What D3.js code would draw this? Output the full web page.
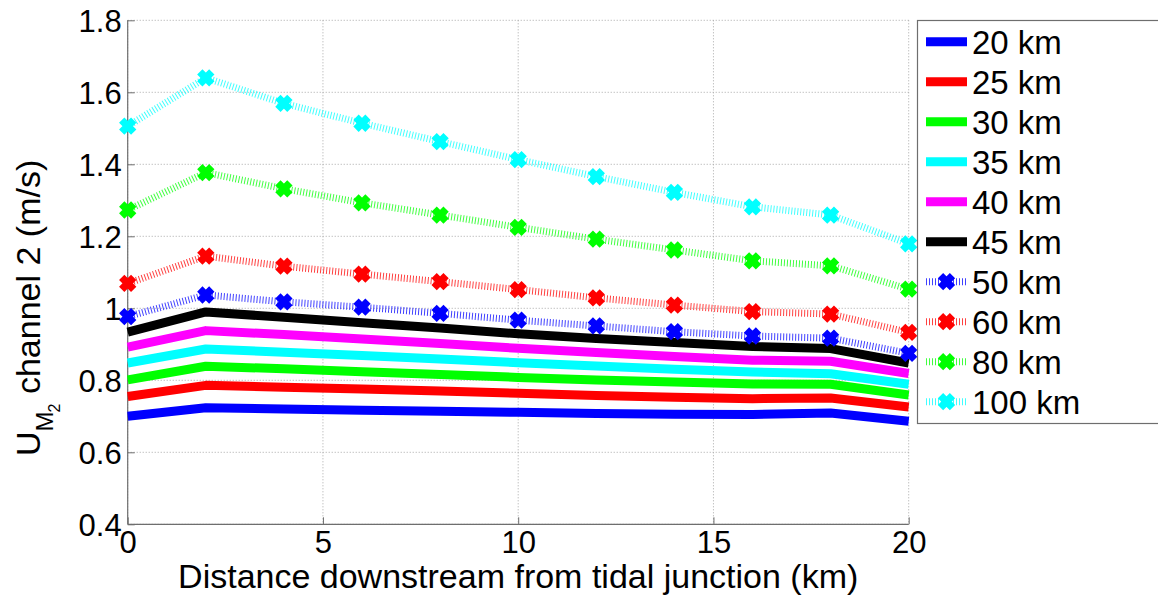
<!DOCTYPE html>
<html>
<head>
<meta charset="utf-8">
<script src="https://cdn.jsdelivr.net/npm/d3@7"></script>
<style>
  html, body { margin: 0; padding: 0; background: #fff; }
  svg { display: block; font-family: "Liberation Sans", Arial, sans-serif; }
</style>
</head>
<body>
<svg id="chart" width="1158" height="596"></svg>
<script>
// Distance downstream from the tidal junction (km)
const distances = [0, 2, 4, 6, 8, 10, 12, 14, 16, 18, 20];

// Channel length of each run, used for the legend
const seriesNames = ["20 km", "25 km", "30 km", "35 km", "40 km", "45 km", "50 km", "60 km", "80 km", "100 km"];
const seriesColors = ["#0000ff", "#ff0000", "#00ff00", "#00ffff", "#ff00ff", "#000000", "#0000ff", "#ff0000", "#00ff00", "#00ffff"];
const seriesDotted = [false, false, false, false, false, false, true, true, true, true];

// M2 velocity amplitude in channel 2 (m/s)
const u20  = [0.700, 0.724, 0.720, 0.717, 0.714, 0.711, 0.708, 0.706, 0.705, 0.709, 0.686];
const u25  = [0.755, 0.786, 0.781, 0.776, 0.770, 0.764, 0.758, 0.753, 0.749, 0.751, 0.726];
const u30  = [0.801, 0.839, 0.832, 0.824, 0.816, 0.808, 0.801, 0.795, 0.790, 0.789, 0.759];
const u35  = [0.848, 0.887, 0.878, 0.869, 0.859, 0.849, 0.840, 0.831, 0.823, 0.818, 0.789];
const u40  = [0.892, 0.938, 0.927, 0.915, 0.902, 0.889, 0.877, 0.866, 0.856, 0.853, 0.819];
const u45  = [0.934, 0.990, 0.975, 0.960, 0.945, 0.929, 0.916, 0.905, 0.894, 0.888, 0.848];
const u50  = [0.977, 1.037, 1.018, 1.003, 0.986, 0.967, 0.951, 0.935, 0.923, 0.917, 0.875];
const u60  = [1.069, 1.145, 1.117, 1.095, 1.074, 1.052, 1.029, 1.009, 0.991, 0.984, 0.933];
const u80  = [1.273, 1.377, 1.332, 1.293, 1.259, 1.225, 1.192, 1.162, 1.132, 1.118, 1.053];
const u100 = [1.506, 1.640, 1.569, 1.514, 1.463, 1.413, 1.366, 1.322, 1.282, 1.259, 1.179];
const seriesValues = [u20, u25, u30, u35, u40, u45, u50, u60, u80, u100];

// Axis ticks
const xTicks = [0, 5, 10, 15, 20];
const yTicks = [0.4, 0.6, 0.8, 1.0, 1.2, 1.4, 1.6, 1.8];
const yTickLabels = ["0.4", "0.6", "0.8", "1", "1.2", "1.4", "1.6", "1.8"];

const svg = d3.select("#chart");
const plot = { left: 127.7, top: 20.3, right: 908.7, bottom: 524.3 };

const x = d3.scaleLinear().domain([0, 20]).range([plot.left, plot.right]);
const y = d3.scaleLinear().domain([0.4, 1.8]).range([plot.bottom, plot.top]);

const tickFont = 31;
const labelFont = 34;
const axisColor = "#6e6e6e";
const gridColor = "#a8a8a8";

// Grid lines
const grid = svg.append("g");
grid.selectAll("line.gx").data(xTicks).join("line")
  .attr("x1", d => x(d)).attr("x2", d => x(d))
  .attr("y1", plot.top).attr("y2", plot.bottom)
  .attr("stroke", gridColor).attr("stroke-width", 1).attr("stroke-dasharray", "1,2");
grid.selectAll("line.gy").data(yTicks).join("line")
  .attr("x1", plot.left).attr("x2", plot.right)
  .attr("y1", d => y(d)).attr("y2", d => y(d))
  .attr("stroke", gridColor).attr("stroke-width", 1).attr("stroke-dasharray", "1,2");

// Axes (inward ticks, no box)
const xAxis = d3.axisBottom(x).tickValues(xTicks).tickSize(-7).tickPadding(7).tickFormat(d3.format("d"));
const yAxis = d3.axisLeft(y).tickValues(yTicks).tickSize(-7).tickPadding(6)
  .tickFormat((d, i) => yTickLabels[i]);

const gx = svg.append("g").attr("transform", `translate(0,${plot.bottom})`).call(xAxis);
const gy = svg.append("g").attr("transform", `translate(${plot.left},0)`).call(yAxis);
[gx, gy].forEach(g => {
  g.select(".domain").attr("stroke", axisColor).attr("stroke-width", 1.2);
  g.selectAll(".tick line").attr("stroke", axisColor).attr("stroke-width", 1);
  g.selectAll(".tick text").attr("fill", "#000").attr("font-size", tickFont)
    .attr("font-family", "Liberation Sans, Arial, sans-serif");
});
gx.select(".domain").attr("d", `M${plot.left},0H${plot.right}`);
gy.select(".domain").attr("d", `M0,${plot.bottom}V${plot.top}`);
gx.selectAll(".tick text").attr("dy", "0.71em");
gy.selectAll(".tick text").attr("dy", "0.36em");

// Series
const line = d3.line().x((d, i) => x(distances[i])).y(d => y(d));
const markerPath = "M-6,-6L6,6M-6,6L6,-6";

const series = seriesValues.map((vals, k) => ({
  name: seriesNames[k], color: seriesColors[k], dotted: seriesDotted[k], values: vals
}));

const lines = svg.append("g");
series.forEach(s => {
  const g = lines.append("g");
  g.append("path")
    .attr("d", line(s.values))
    .attr("fill", "none")
    .attr("stroke", s.color)
    .attr("stroke-width", s.dotted ? 7 : 9)
    .attr("stroke-linejoin", "round")
    .attr("stroke-dasharray", s.dotted ? "1,2" : null)
    .attr("stroke-opacity", s.dotted ? 0.75 : 1);
  if (s.dotted) {
    g.selectAll("path.m").data(s.values).join("path")
      .attr("class", "m")
      .attr("transform", (d, i) => `translate(${x(distances[i])},${y(d)})`)
      .attr("d", markerPath)
      .attr("stroke", s.color)
      .attr("stroke-width", 7.5)
      .attr("fill", "none");
  }
});

// Axis titles
svg.append("text")
  .attr("x", (plot.left + plot.right) / 2)
  .attr("y", 588)
  .attr("text-anchor", "middle")
  .attr("font-size", labelFont)
  .text("Distance downstream from tidal junction (km)");

const ylab = svg.append("text")
  .attr("transform", `translate(40,456) rotate(-90)`)
  .attr("text-anchor", "start")
  .attr("font-size", labelFont);
ylab.append("tspan").text("U");
ylab.append("tspan").attr("dy", 13).attr("font-size", 24).text("M");
ylab.append("tspan").attr("dx", -1).attr("dy", 7).attr("font-size", 16).text("2");
ylab.append("tspan").attr("dy", -20).text(" channel 2 (m/s)");

// Legend
const legend = svg.append("g");
legend.append("rect")
  .attr("x", 917.5).attr("y", 20.5)
  .attr("width", 260).attr("height", 403)
  .attr("fill", "#fff").attr("stroke", axisColor).attr("stroke-width", 1.2);

const rowY = i => 41.7 + 40 * i;
series.forEach((s, i) => {
  const g = legend.append("g").attr("transform", `translate(0,${rowY(i)})`);
  g.append("line")
    .attr("x1", 926).attr("x2", 967).attr("y1", 0).attr("y2", 0)
    .attr("stroke", s.color)
    .attr("stroke-width", s.dotted ? 7 : 9)
    .attr("stroke-dasharray", s.dotted ? "1,2" : null)
    .attr("stroke-opacity", s.dotted ? 0.75 : 1);
  if (s.dotted) {
    g.append("path").attr("transform", "translate(946.5,0)")
      .attr("d", markerPath).attr("stroke", s.color).attr("stroke-width", 7.5).attr("fill", "none");
  }
  g.append("text")
    .attr("x", 972).attr("y", 0).attr("dy", "0.36em")
    .attr("font-size", 33)
    .text(s.name);
});
</script>
</body>
</html>
